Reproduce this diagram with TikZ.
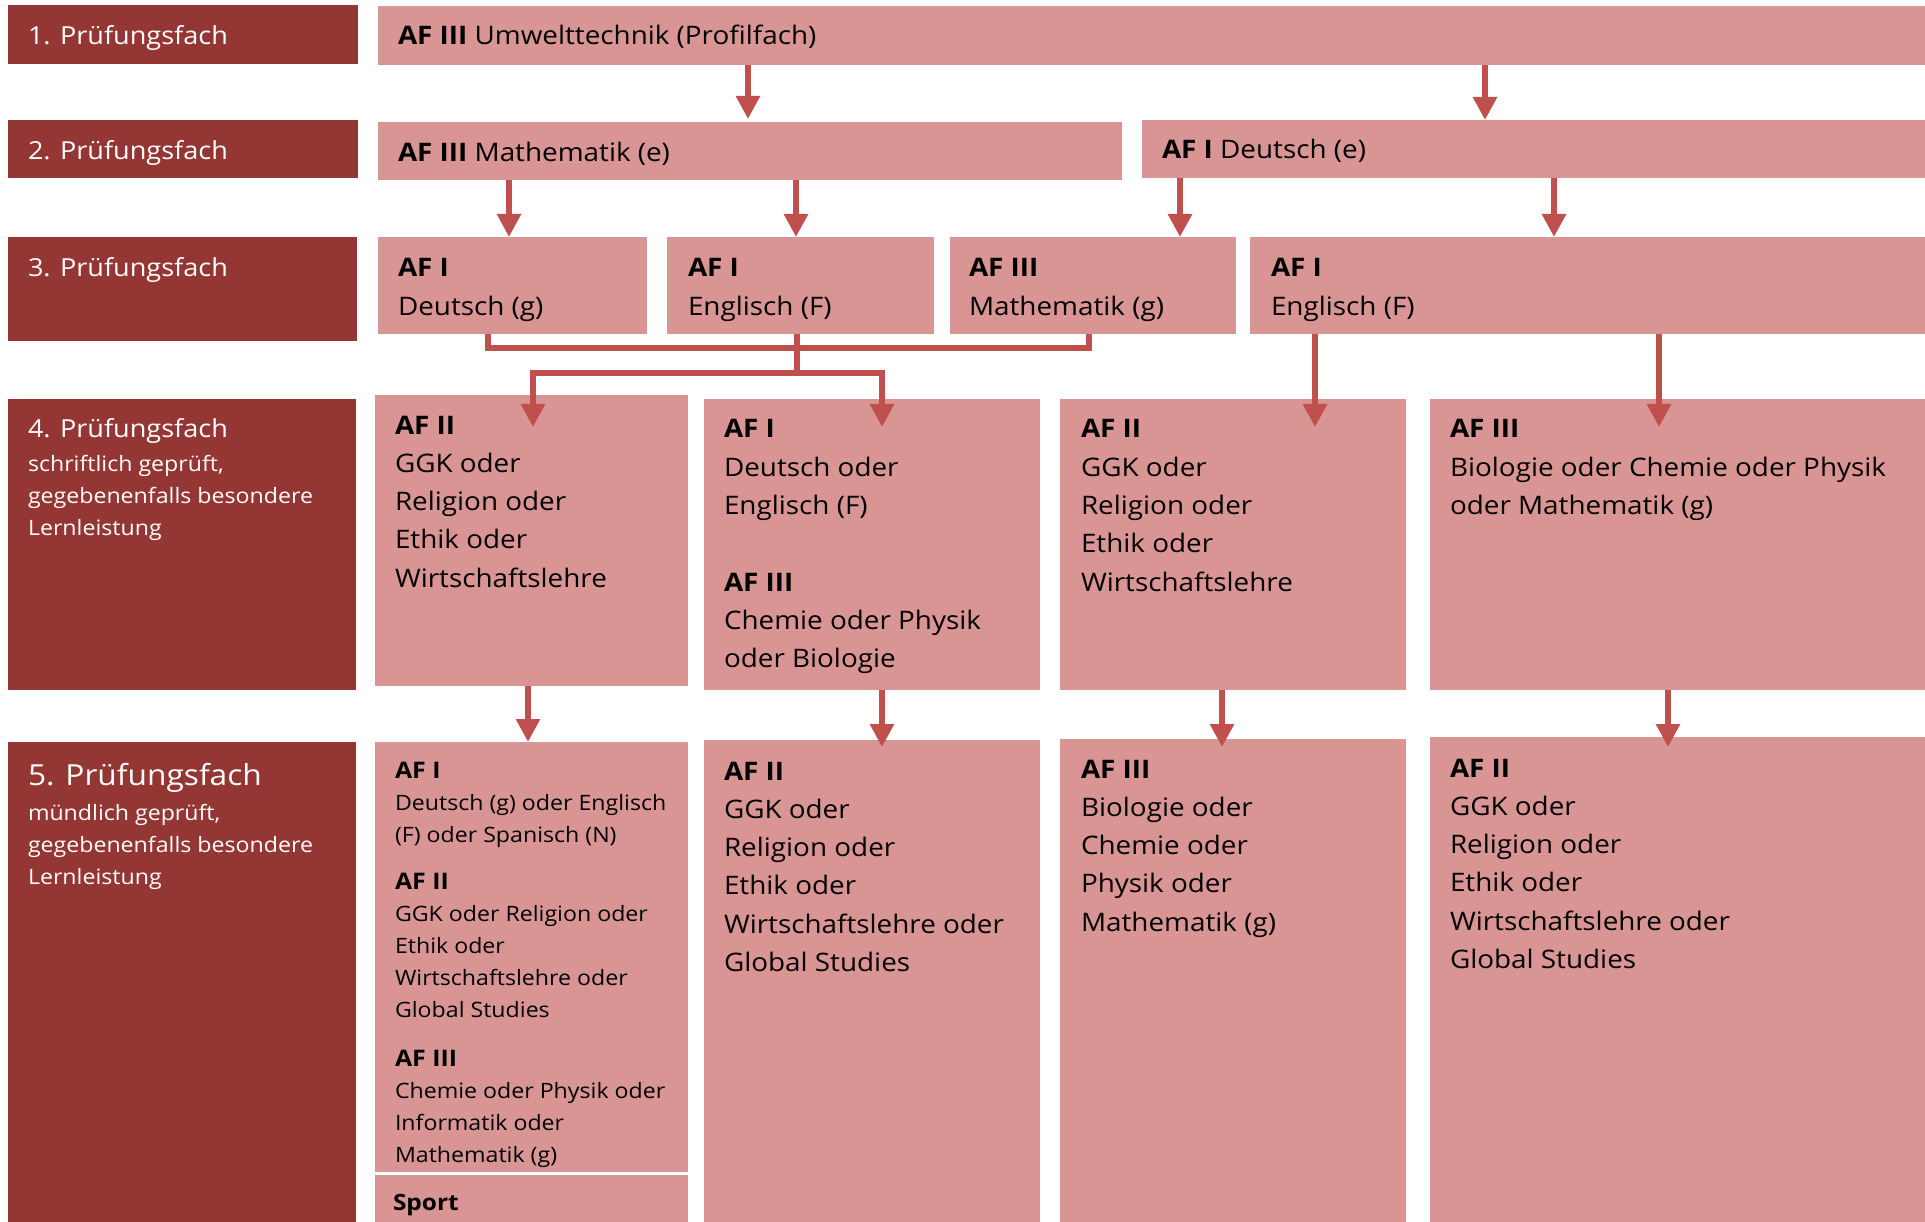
\documentclass[tikz,border=0pt]{standalone}
\usepackage{fontspec}
\setmainfont{Open Sans}[FakeStretch=1.092]
\usetikzlibrary{arrows.meta,calc}
\definecolor{hdr}{HTML}{943634}
\definecolor{lite}{HTML}{D99594}
\definecolor{arrc}{HTML}{C0504D}
\newcommand\fBig{\fontsize{25.5}{38.3}\selectfont}
\newcommand\fSmall{\fontsize{21.2}{32}\selectfont}
\newcommand\fHeadS{\fontsize{22.8}{32}\selectfont}
\newcommand\fSport{\fontsize{22.4}{32}\selectfont}
\newcommand\fTitle{\fontsize{24.8}{32}\selectfont}
\newcommand\fTitleL{\fontsize{29}{32}\selectfont}
\tikzset{
  hbox/.style={fill=hdr, draw=none, inner sep=0pt, outer sep=0pt, anchor=north west},
  cbox/.style={fill=lite, draw=none, inner sep=0pt, outer sep=0pt, anchor=north west},
  txt/.style={inner sep=0pt, outer sep=0pt, anchor=base west, text=black, font=\fBig},
  htxt/.style={txt, text=white},
  conn/.style={draw=arrc, line width=6.5pt, line join=miter},
  arr/.style={conn, -{Triangle[width=23pt,length=23pt]}},
}
\begin{document}
\begin{tikzpicture}[x=1pt,y=-1pt]
\useasboundingbox (0,0) rectangle (1925,1222);
% header boxes
\node[hbox, minimum width=350pt, minimum height=59pt]  (H1) at (8,5) {};
\node[hbox, minimum width=350pt, minimum height=58pt]  (H2) at (8,120) {};
\node[hbox, minimum width=349pt, minimum height=104pt] (H3) at (8,237) {};
\node[hbox, minimum width=348pt, minimum height=291pt] (H4) at (8,399) {};
\node[hbox, minimum width=348pt, minimum height=480pt] (H5) at (8,742) {};
% content boxes
\node[cbox, minimum width=1547pt, minimum height=59pt] (R1) at (378,6) {};
\node[cbox, minimum width=744pt, minimum height=58pt]  (R2a) at (378,122) {};
\node[cbox, minimum width=783pt, minimum height=58pt]  (R2b) at (1142,120) {};
\node[cbox, minimum width=269pt, minimum height=97pt]  (R3a) at (378,237) {};
\node[cbox, minimum width=267pt, minimum height=97pt]  (R3b) at (667,237) {};
\node[cbox, minimum width=286pt, minimum height=97pt]  (R3c) at (950,237) {};
\node[cbox, minimum width=675pt, minimum height=97pt]  (R3d) at (1250,237) {};
\node[cbox, minimum width=313pt, minimum height=291pt] (R4a) at (375,395) {};
\node[cbox, minimum width=336pt, minimum height=291pt] (R4b) at (704,399) {};
\node[cbox, minimum width=346pt, minimum height=291pt] (R4c) at (1060,399) {};
\node[cbox, minimum width=495pt, minimum height=291pt] (R4d) at (1430,399) {};
\node[cbox, minimum width=313pt, minimum height=430pt] (R5a) at (375,742) {};
\node[cbox, minimum width=313pt, minimum height=47pt]  (R5s) at (375,1175) {};
\node[cbox, minimum width=336pt, minimum height=482pt] (R5b) at (704,740) {};
\node[cbox, minimum width=346pt, minimum height=483pt] (R5c) at (1060,739) {};
\node[cbox, minimum width=495pt, minimum height=485pt] (R5d) at (1430,737) {};

% header texts
\node[htxt] (tH1) at ($(H1.north west)+(20,40)$) {\fTitle 1. Prüfungsfach};
\node[htxt] (tH2) at ($(H2.north west)+(20,40)$) {\fTitle 2. Prüfungsfach};
\node[htxt] (tH3) at ($(H3.north west)+(20,40)$) {\fTitle 3. Prüfungsfach};
\node[htxt] (tH4) at ($(H4.north west)+(20,39)$) {\begin{minipage}[t]{330pt}\raggedright\fSmall
{\fTitle 4. Prüfungsfach}\\[2pt]
schriftlich geprüft,\\
gegebenenfalls besondere\\
Lernleistung
\end{minipage}};
\node[htxt] (tH5) at ($(H5.north west)+(20,43)$) {\begin{minipage}[t]{330pt}\raggedright\fSmall
{\fTitleL 5. Prüfungsfach}\\[3pt]
mündlich geprüft,\\
gegebenenfalls besondere\\
Lernleistung
\end{minipage}};

% content texts
\node[txt] (tR1) at ($(R1.north west)+(20,39)$) {\textbf{AF III} Umwelttechnik (Profilfach)};
\node[txt] (tR2a) at ($(R2a.north west)+(20,40)$) {\textbf{AF III} Mathematik (e)};
\node[txt] (tR2b) at ($(R2b.north west)+(20,39)$) {\textbf{AF I} Deutsch (e)};
\node[txt] (tR3a) at ($(R3a.north west)+(20,40)$) {\begin{minipage}[t]{300pt}\raggedright\fBig
\textbf{AF I}\\ Deutsch (g)\end{minipage}};
\node[txt] (tR3b) at ($(R3b.north west)+(21,40)$) {\begin{minipage}[t]{300pt}\raggedright\fBig
\textbf{AF I}\\ Englisch (F)\end{minipage}};
\node[txt] (tR3c) at ($(R3c.north west)+(19,40)$) {\begin{minipage}[t]{300pt}\raggedright\fBig
\textbf{AF III}\\ Mathematik (g)\end{minipage}};
\node[txt] (tR3d) at ($(R3d.north west)+(21,40)$) {\begin{minipage}[t]{300pt}\raggedright\fBig
\textbf{AF I}\\ Englisch (F)\end{minipage}};

\node[txt] (tR4a) at ($(R4a.north west)+(20,39)$) {\begin{minipage}[t]{300pt}\raggedright\fBig
\textbf{AF II}\\ GGK oder\\ Religion oder\\ Ethik oder\\ Wirtschaftslehre\end{minipage}};
\node[txt] (tR4b) at ($(R4b.north west)+(20,39)$) {\begin{minipage}[t]{320pt}\raggedright\fBig
\textbf{AF I}\\ Deutsch oder\\ Englisch (F)\\[38.3pt]
\textbf{AF III}\\ Chemie oder Physik\\ oder Biologie\end{minipage}};
\node[txt] (tR4c) at ($(R4c.north west)+(21,39)$) {\begin{minipage}[t]{320pt}\raggedright\fBig
\textbf{AF II}\\ GGK oder\\ Religion oder\\ Ethik oder\\ Wirtschaftslehre\end{minipage}};
\node[txt] (tR4d) at ($(R4d.north west)+(20,39)$) {\begin{minipage}[t]{470pt}\raggedright\fBig
\textbf{AF III}\\ Biologie oder Chemie oder Physik\\ oder Mathematik (g)\end{minipage}};

\node[txt] (tR5a) at ($(R5a.north west)+(20,36)$) {\begin{minipage}[t]{300pt}\raggedright\fSmall
{\fHeadS\textbf{AF I}}\\
Deutsch (g) oder Englisch\\
(F) oder Spanisch (N)\\[15pt]
{\fHeadS\textbf{AF II}}\\
GGK oder Religion oder\\
Ethik oder\\
Wirtschaftslehre oder\\
Global Studies\\[17pt]
{\fHeadS\textbf{AF III}}\\
Chemie oder Physik oder\\
Informatik oder\\
Mathematik (g)
\end{minipage}};
\node[txt] (tR5s) at ($(R5s.north west)+(18,35)$) {\fSport\textbf{Sport}};
\node[txt] (tR5b) at ($(R5b.north west)+(20,40)$) {\begin{minipage}[t]{320pt}\raggedright\fBig
\textbf{AF II}\\ GGK oder\\ Religion oder\\ Ethik oder\\ Wirtschaftslehre oder\\ Global Studies\end{minipage}};
\node[txt] (tR5c) at ($(R5c.north west)+(21,39)$) {\begin{minipage}[t]{320pt}\raggedright\fBig
\textbf{AF III}\\ Biologie oder\\ Chemie oder\\ Physik oder\\ Mathematik (g)\end{minipage}};
\node[txt] (tR5d) at ($(R5d.north west)+(20,40)$) {\begin{minipage}[t]{470pt}\raggedright\fBig
\textbf{AF II}\\ GGK oder\\ Religion oder\\ Ethik oder\\ Wirtschaftslehre oder\\ Global Studies\end{minipage}};

% arrows row 1 -> 2
\draw[arr] ([xshift=370pt]R1.south west) -- ([xshift=370pt,yshift=3pt]R2a.north west);
\draw[arr] ([xshift=1107pt]R1.south west) -- ([xshift=343pt]R2b.north west);
% row 2 -> 3
\draw[arr] ([xshift=131pt]R2a.south west) -- ([xshift=131pt]R3a.north west);
\draw[arr] ([xshift=418pt]R2a.south west) -- ([xshift=129pt]R3b.north west);
\draw[arr] ([xshift=38pt]R2b.south west) -- ([xshift=230pt]R3c.north west);
\draw[arr] ([xshift=412pt]R2b.south west) -- ([xshift=304pt]R3d.north west);
% row 3 -> 4
\draw[conn] ([xshift=110pt]R3a.south west) -- ++(0,14) -| ([xshift=139pt]R3c.south west);
\draw[conn] ([xshift=130pt]R3b.south west) -- ++(0,39) coordinate (J);
\draw[arr] (J) -| ([xshift=158pt,yshift=-32pt]R4a.north west);
\draw[arr] (J) -| ([xshift=178pt,yshift=-28pt]R4b.north west);
\draw[arr] ([xshift=65pt]R3d.south west) -- ([xshift=255pt,yshift=-28pt]R4c.north west);
\draw[arr] ([xshift=409pt]R3d.south west) -- ([xshift=229pt,yshift=-28pt]R4d.north west);
% row 4 -> 5
\draw[arr] ([xshift=153pt]R4a.south west) -- ([xshift=153pt]R5a.north west);
\draw[arr] ([xshift=178pt]R4b.south west) -- ([xshift=178pt,yshift=-7pt]R5b.north west);
\draw[arr] ([xshift=162pt]R4c.south west) -- ([xshift=162pt,yshift=-8pt]R5c.north west);
\draw[arr] ([xshift=238pt]R4d.south west) -- ([xshift=238pt,yshift=-10pt]R5d.north west);
\end{tikzpicture}
\end{document}
